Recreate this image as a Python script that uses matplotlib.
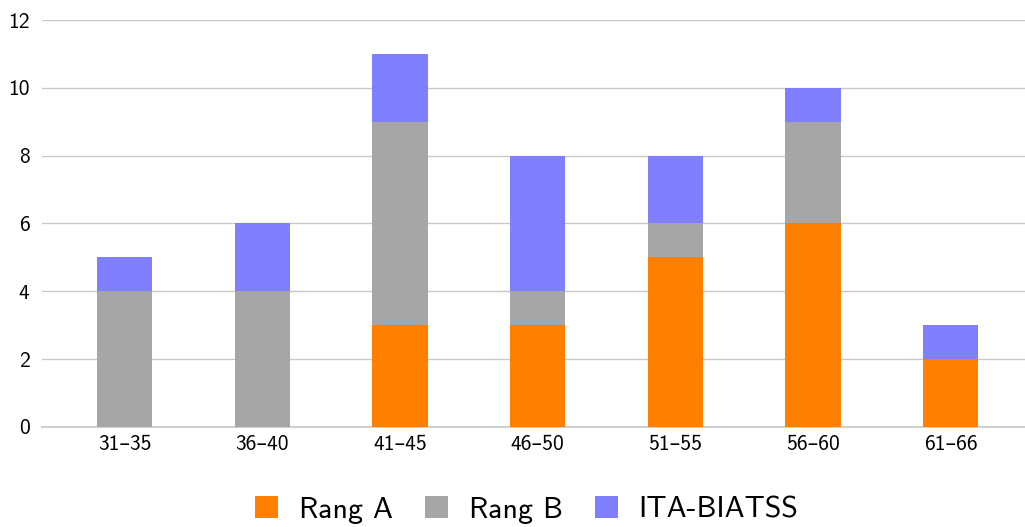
import matplotlib.pyplot as plt
import numpy as np

plt.rcParams['font.family'] = ['cmss10', 'DejaVu Sans']
plt.rcParams['axes.unicode_minus'] = False

age_groups = ["31–35", "36–40", "41–45", "46–50", "51–55", "56–60", "61–66"]
rang_a = [0, 0, 3, 3, 5, 6, 2]
rang_b = [4, 4, 6, 1, 1, 3, 0]
ita_biatss = [1, 2, 2, 4, 2, 1, 1]

fig = plt.figure(figsize=(10.25, 5.27), dpi=100)
ax = fig.add_axes([0.041, 0.19, 0.959, 0.772])

x = np.arange(len(age_groups))
w = 0.4
a = np.array(rang_a)
b = np.array(rang_b)
c = np.array(ita_biatss)

ax.bar(x, a, w, color="#ff8000", label="Rang A", zorder=3)
ax.bar(x, b, w, bottom=a, color="#a6a6a6", label="Rang B", zorder=3)
ax.bar(x, c, w, bottom=a + b, color="#8080ff", label="ITA-BIATSS", zorder=3)

ax.set_xlim(-0.6, 6.54)
ax.set_ylim(0, 12)
ax.set_yticks(range(0, 13, 2))
ax.set_xticks(x)
ax.set_xticklabels(age_groups)
ax.tick_params(length=0, labelsize=15.5)
ax.tick_params(axis="y", pad=9)
ax.tick_params(axis="x", pad=6)
ax.yaxis.grid(True, color="#c8c8c8", linewidth=1, zorder=0)

for side in ["top", "right", "left"]:
    ax.spines[side].set_visible(False)
ax.spines["bottom"].set_color("#d0d0d0")
ax.spines["bottom"].set_linewidth(1.5)

fig.legend(loc="lower center", ncol=3, frameon=False, fontsize=21.5,
           bbox_to_anchor=(0.514, -0.045), handlelength=0.75, handleheight=0.75,
           columnspacing=1.1, handletextpad=0.7)

fig.savefig("out.png", dpi=100)
